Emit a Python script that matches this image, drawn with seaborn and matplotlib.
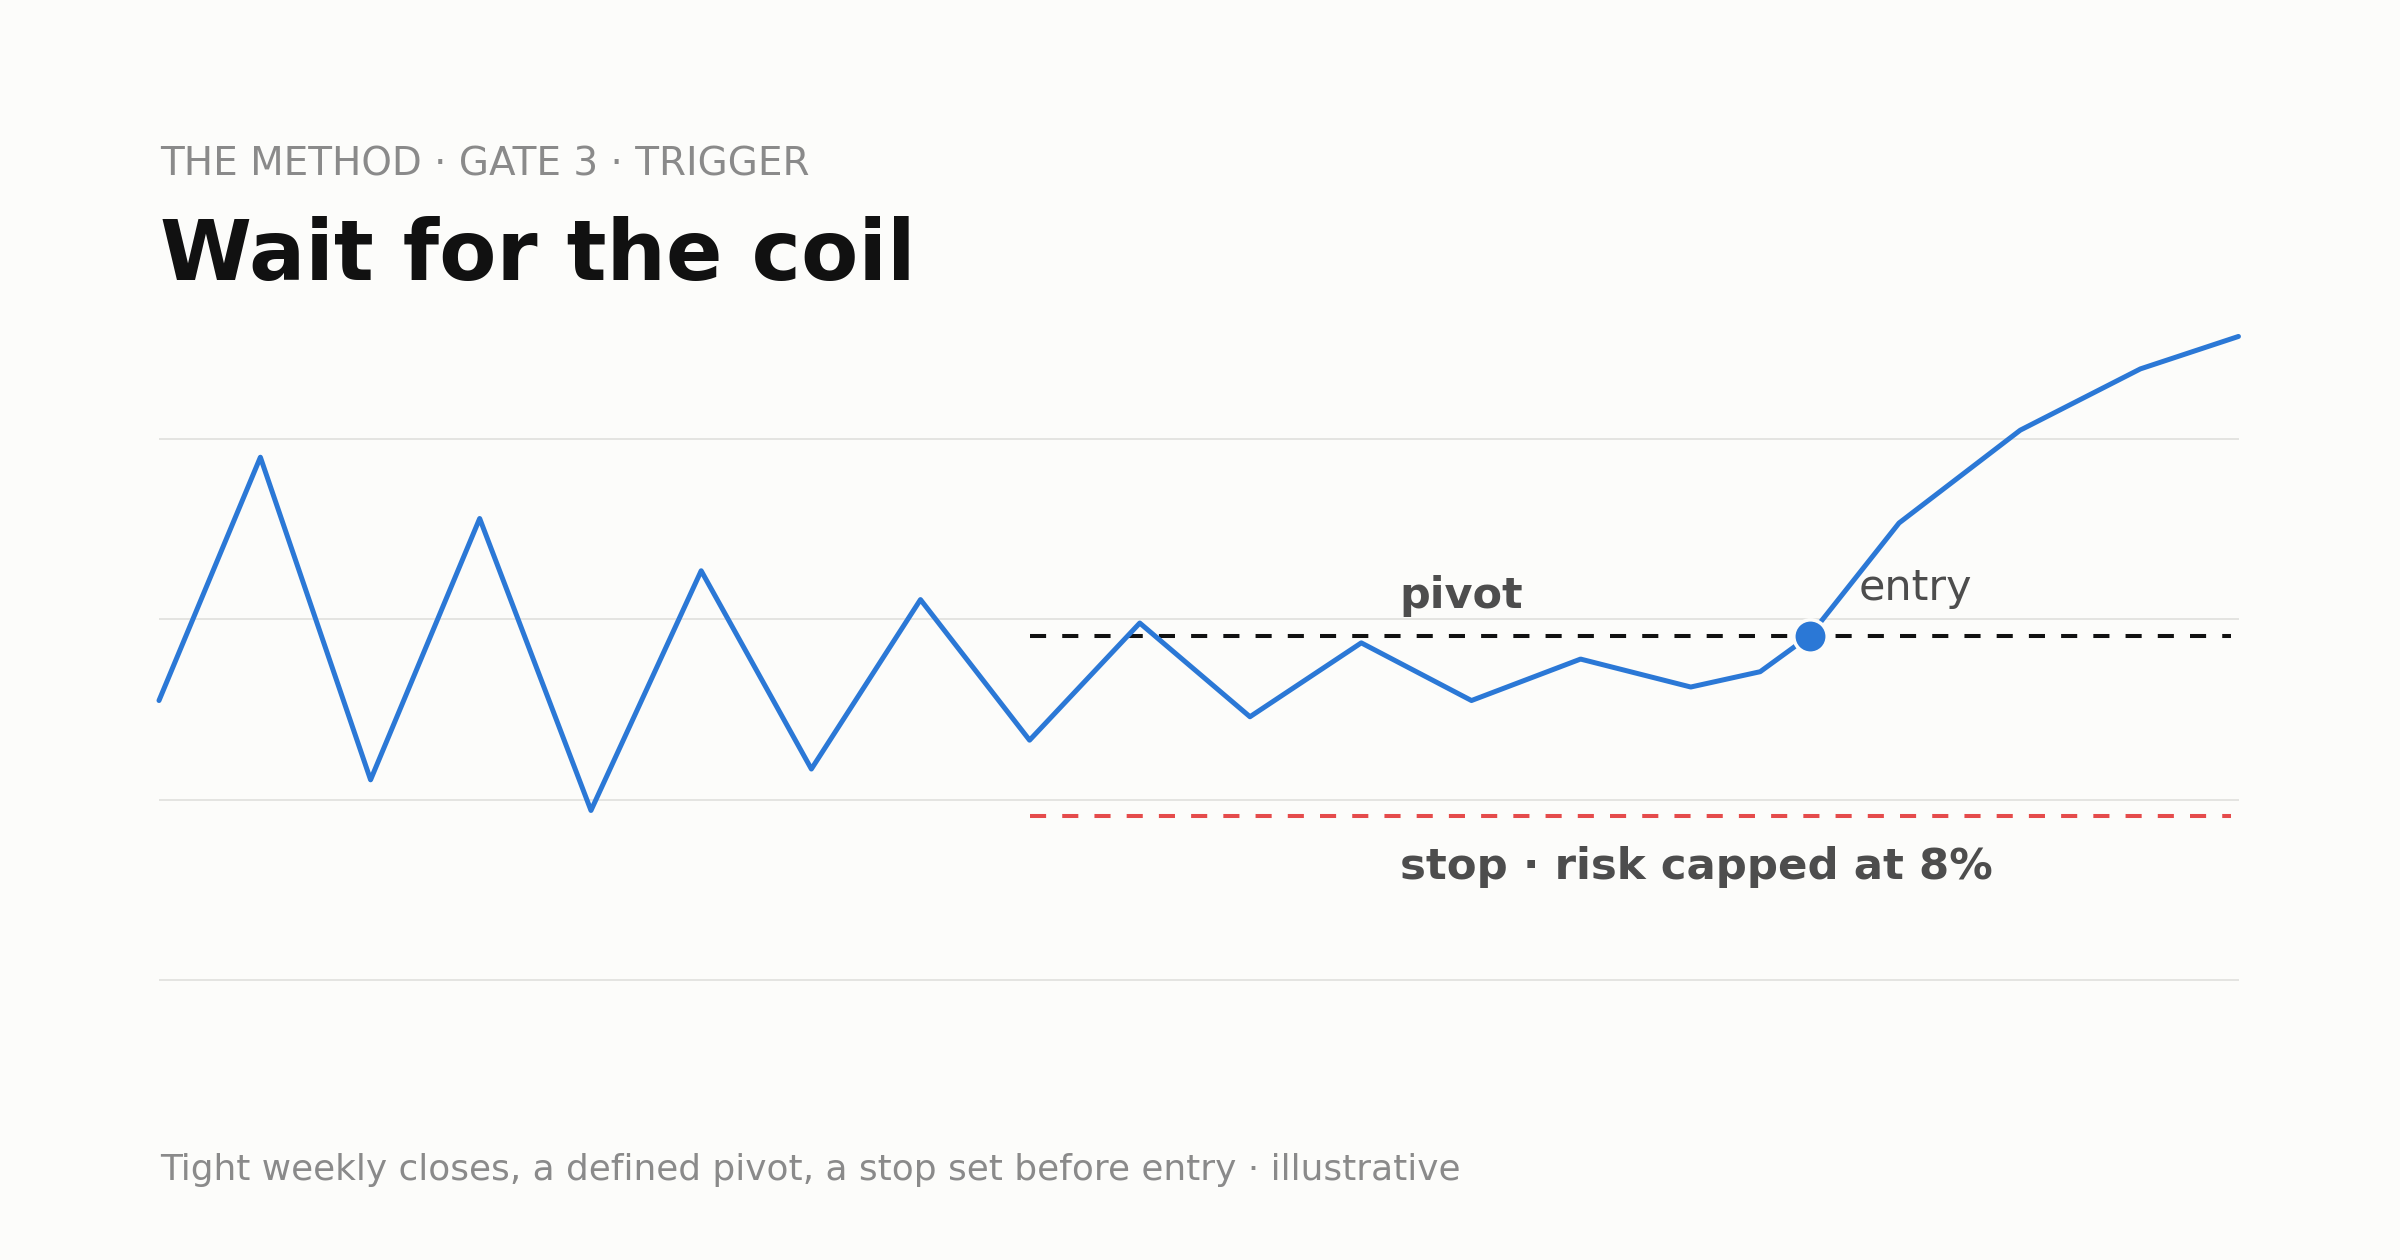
import matplotlib
matplotlib.use("Agg")
import matplotlib.pyplot as plt
import seaborn as sns
import pandas as pd

# ---- data ----
weeks = [0.0, 0.92, 1.92, 2.91, 3.92, 4.92, 5.92, 6.91, 7.90, 8.90, 9.90,
         10.91, 11.91, 12.90, 13.90, 14.53, 14.98, 15.79, 16.89, 17.98, 18.87]
closes = [95.5, 109.0, 91.1, 105.6, 89.4, 102.7, 91.7, 101.1, 93.3, 99.8, 94.6,
          98.7, 95.5, 97.8, 96.25, 97.1, 99.1, 105.35, 110.5, 113.9, 115.7]
pivot_level = 99.1
stop_level = 89.1
level_span = [7.90, 18.80]
entry_week = 14.98
entry_close = 99.1
grid_levels = [80, 90, 100, 110]

kicker = "THE METHOD · GATE 3 · TRIGGER"
title = "Wait for the coil"
footer = "Tight weekly closes, a defined pivot, a stop set before entry · illustrative"
pivot_label = "pivot"
stop_label = "stop · risk capped at 8%"
entry_label = "entry"

BG = "#fcfcfa"
BLUE = "#2b78d6"
RED = "#e54b4b"
LABEL = "#4d4d4d"
MUTED = "#8a8a8a"

sns.set_theme(style="white")
plt.rcParams["font.family"] = ["DejaVu Sans"]

fig = plt.figure(figsize=(24, 12.6), dpi=100, facecolor=BG)
W, H = 2400, 1260
ax = fig.add_axes([159 / W, 208 / H, 2080 / W, 757 / H])
ax.set_facecolor(BG)

df = pd.DataFrame({"week": weeks, "close": closes})

# gridlines
ax.set_yticks(grid_levels)
ax.yaxis.grid(True, color="#e0e0dc", linewidth=1.2)
ax.set_axisbelow(True)
ax.tick_params(left=False, bottom=False, labelleft=False, labelbottom=False)
for s in ax.spines.values():
    s.set_visible(False)

# pivot and stop levels
ax.plot(level_span, [pivot_level, pivot_level], color="#111111", lw=2.9,
        dashes=(4, 4), zorder=2)
ax.plot(level_span, [stop_level, stop_level], color=RED, lw=2.9,
        dashes=(4, 4), zorder=2)

# price line
sns.lineplot(data=df, x="week", y="close", ax=ax, color=BLUE, linewidth=3.6,
             zorder=3, sort=False)
price_line = ax.lines[-1]
price_line.set_solid_capstyle("round")
price_line.set_clip_on(False)

# entry marker
ax.plot([entry_week], [entry_close], marker="o", markersize=24,
        markerfacecolor=BLUE, markeredgecolor=BG, markeredgewidth=2.5, zorder=4)

ax.set_xlim(0, 18.875)
ax.set_ylim(76, 118)
ax.set_xlabel("")
ax.set_ylabel("")

# annotations
ax.text(11.26, 100.63, pivot_label, fontsize=31, fontweight="bold",
        color=LABEL, va="baseline", ha="left")
ax.text(11.26, 85.6, stop_label, fontsize=31.3, fontweight="bold",
        color=LABEL, va="baseline", ha="left")
ax.text(15.42, 101.08, entry_label, fontsize=31, color=LABEL,
        va="baseline", ha="left")

# header / footer
fig.text(160 / W, 1 - 176 / H, kicker, fontsize=28, color=MUTED,
         va="baseline", ha="left")
fig.text(160 / W, 1 - 280 / H, title, fontsize=60, fontweight="bold",
         color="#111111", va="baseline", ha="left")
fig.text(160 / W, 1 - 1180 / H, footer, fontsize=25.8, color=MUTED,
         va="baseline", ha="left")

fig.savefig("out.png", dpi=100, facecolor=BG)
